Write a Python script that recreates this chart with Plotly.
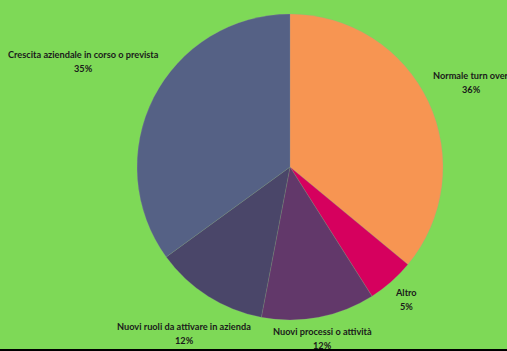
import plotly.graph_objects as go

labels = ["Normale turn over", "Altro", "Nuovi processi o attività",
          "Nuovi ruoli da attivare in azienda", "Crescita aziendale in corso o prevista"]
values = [36, 5, 12, 12, 35]
colors = ["#F79552", "#D6005E", "#62386A", "#4A4669", "#556185"]

W, H = 507, 351
cx, cy, r = 290, 167, 153

# label anchor positions (pixels, top-left origin)
label_pos = [(471, 75), (406, 292), (322, 331), (184, 326), (83, 54)]

fig = go.Figure(go.Pie(
    labels=labels, values=values, sort=False, direction="clockwise",
    rotation=0, marker=dict(colors=colors, line=dict(color="rgba(160,160,160,0.35)", width=0.6)),
    textinfo="none", hoverinfo="label+percent", showlegend=False,
    domain=dict(x=[(cx - r) / W, (cx + r) / W], y=[(H - cy - r) / H, (H - cy + r) / H]),
))

total = sum(values)
for lab, v, (x, y) in zip(labels, values, label_pos):
    pct = f"{round(v / total * 100)}%"
    for txt, yy in ((lab, y), (pct, y + 14.5)):
        fig.add_annotation(text=f"<b>{txt}</b>", x=x / W, y=1 - yy / H, xref="paper", yref="paper",
                           showarrow=False, xanchor="center", yanchor="middle",
                           font=dict(family="Lato", size=9.2, color="#1A1A1A"))

fig.add_shape(type="rect", xref="paper", yref="paper", x0=0, x1=1, y0=0, y1=2 / H,
              fillcolor="#000000", line=dict(width=0))

fig.update_layout(width=W, height=H, margin=dict(l=0, r=0, t=0, b=0),
                  paper_bgcolor="#7ED957", plot_bgcolor="#7ED957")
fig.write_html("out.html", config={"displayModeBar": False},
               post_script="document.body.style.margin='0';document.body.style.overflow='hidden';")
